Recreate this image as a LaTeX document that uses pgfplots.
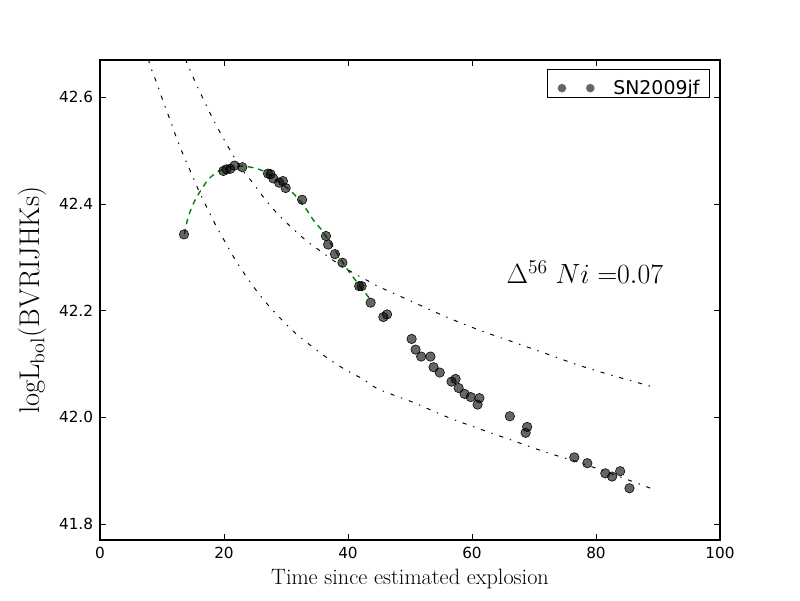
\RequirePackage{fix-cm}
\documentclass[border=0pt]{standalone}
\usepackage{fontspec}
\newfontfamily\djv{DejaVu Sans}
\usepackage{pgfplots}
\pgfplotsset{compat=1.18}
\pgfplotstableread{
x y
13.55 42.343
19.9 42.462
20.4 42.465
21.0 42.466
21.7 42.472
22.95 42.469
27.1 42.457
27.5 42.456
27.95 42.448
28.9 42.440
29.5 42.443
29.95 42.430
32.6 42.408
36.45 42.340
36.8 42.324
37.9 42.306
39.1 42.290
41.8 42.246
42.2 42.246
43.65 42.215
45.7 42.188
46.3 42.193
50.26 42.147
50.9 42.127
51.8 42.114
53.3 42.114
53.8 42.094
54.8 42.084
56.7 42.067
57.35 42.072
57.85 42.055
58.8 42.044
59.8 42.038
61.2 42.036
60.9 42.024
66.1 42.002
68.9 41.982
68.65 41.971
76.5 41.925
78.6 41.914
81.5 41.895
82.6 41.889
83.9 41.899
85.4 41.867
}\sndata
\pgfplotstableread{
x y
13.75 42.672
14.08 42.663
15.32 42.630
16.65 42.597
18.02 42.564
19.52 42.531
21.13 42.498
22.74 42.467
24.63 42.440
26.56 42.410
28.6 42.382
30.8 42.357
33.2 42.332
35.76 42.310
38.4 42.288
40.97 42.270
43.7 42.253
45.16 42.244
50.53 42.216
55.9 42.188
61.3 42.163
66.7 42.141
72.05 42.119
77.4 42.097
82.8 42.078
89.5 42.056
}\uppercurve
\pgfplotstableread{
x y
7.85 42.672
8.06 42.660
9.15 42.627
10.21 42.592
11.29 42.558
12.37 42.523
13.55 42.489
14.79 42.456
16.02 42.423
17.47 42.388
18.82 42.357
20.32 42.326
21.94 42.293
23.66 42.263
25.53 42.233
27.53 42.205
29.73 42.178
31.98 42.153
34.4 42.131
36.94 42.109
39.63 42.089
42.37 42.072
44.9 42.053
50.53 42.028
55.9 42.001
61.3 41.978
66.7 41.956
72.05 41.934
77.4 41.915
82.8 41.893
89.5 41.864
}\lowercurve
\pgfplotstableread{
x y
13.6 42.343
14.24 42.376
15.32 42.407
17.2 42.442
18.55 42.457
20.6 42.469
23.1 42.471
26.3 42.462
30.6 42.426
32.8 42.398
34.4 42.370
35.76 42.351
37.6 42.319
40.05 42.275
43.55 42.222
}\fitcurve
\begin{document}
\begin{tikzpicture}
\useasboundingbox (-72pt,-43.2pt) rectangle (504pt,388.8pt);
\begin{axis}[
  at={(0,0)}, anchor=south west,
  scale only axis, width=446.4pt, height=345.6pt,
  xmin=0, xmax=100, ymin=41.77, ymax=42.67,
  xtick={0,20,40,60,80,100}, xticklabels={0,20,40,60,80,100},
  ytick={41.8,42.0,42.2,42.4,42.6}, yticklabels={41.8,42.0,42.2,42.4,42.6},
  tick align=inside, major tick length=4pt,
  every tick/.style={black, line width=0.6pt},
  axis line style={line width=1pt},
  tick label style={font=\djv\fontsize{11}{13}\selectfont},
  /pgf/number format/assume math mode=true,
  xticklabel style={inner ysep=0pt, yshift=-5pt},
  yticklabel style={inner xsep=0pt, xshift=-4.8pt},
  xlabel={Time since estimated explosion},
  ylabel={logL$_{\mathrm{bol}}$(BVRIJHKs)},
  every axis x label/.style={at={(axis description cs:0.5,0)}, anchor=base, yshift=-31.7pt, font=\fontsize{16}{19}\selectfont},
  every axis y label/.style={at={(axis description cs:0,0.5)}, xshift=-43.2pt, rotate=90, anchor=base, font=\fontsize{20.5}{24}\selectfont},
  legend style={at={(1,1)}, anchor=north east, xshift=-7.2pt, yshift=-6.7pt,
    draw=black, line width=0.8pt, fill=white, inner xsep=7.2pt, inner ysep=0pt,
    font=\djv\fontsize{13.6}{16}\selectfont,
    nodes={inner sep=0pt},
    column sep=0pt},
  legend cell align=left,
  legend image code/.code={
    \path[draw=none] (-0.7pt,-6.45pt) rectangle (39.4pt,13.15pt);
    \fill[draw=none, black, fill opacity=0.6] (2.4pt,0pt) circle (3.1pt);
    \fill[draw=none, black, fill opacity=0.6] (22.8pt,0pt) circle (3.1pt);
  },
]
\addplot[only marks, mark=*, mark size=3.4pt, mark options={draw=none, fill=black, fill opacity=0.6}] table[x=x,y=y] {\sndata};
\addlegendentry{SN2009jf}
\addplot[forget plot, green!50!black, line width=1pt, dash pattern=on 4pt off 3.5pt, smooth] table[x=x,y=y] {\fitcurve};
\addplot[forget plot, black, line width=0.7pt, dash pattern=on 3pt off 5pt on 1pt off 5pt, smooth] table[x=x,y=y] {\uppercurve};
\addplot[forget plot, black, line width=0.7pt, dash pattern=on 3pt off 5pt on 1pt off 5pt, smooth] table[x=x,y=y] {\lowercurve};
\node[anchor=base west, inner sep=0pt, font=\fontsize{20}{24}\selectfont] at (axis cs:65.55,42.2504) {$\Delta^{56}\;Ni\;{=}0.07$};
\end{axis}
\end{tikzpicture}
\end{document}
